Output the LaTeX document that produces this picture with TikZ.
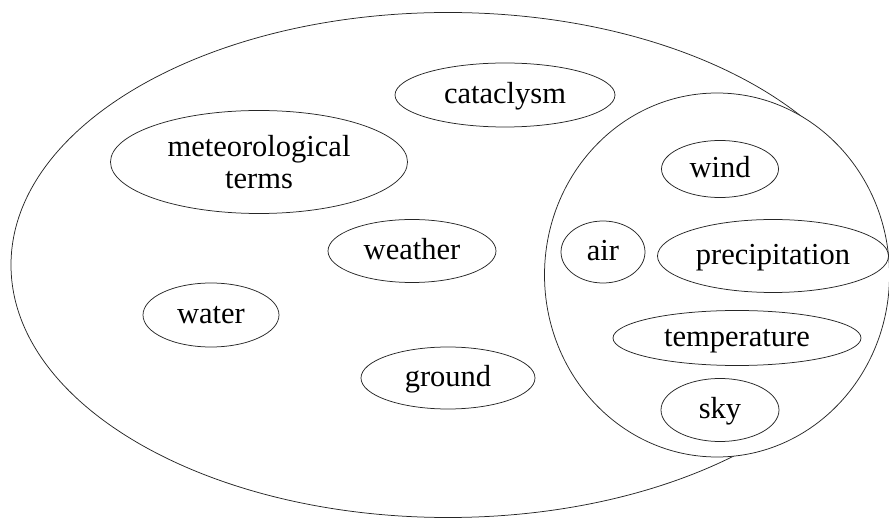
\documentclass[tikz,border=0pt]{standalone}
\usepackage{fontspec}
\setmainfont{Liberation Serif}
\usetikzlibrary{shapes.geometric}
\tikzset{
  bub/.style={draw=black!85, ellipse, inner sep=0pt, line width=0.75pt,
    font=\fontsize{30.5}{31.5}\selectfont, align=center},
  one/.style={text height=23pt, text depth=6pt},
}
\begin{document}
\begin{tikzpicture}[x=1pt,y=-1pt]
\useasboundingbox (0,0) rectangle (889,518);
\clip (0,0) rectangle (889,518);
% outer set and sub-set
\node[bub, minimum width=874pt, minimum height=505pt] (outer) at (448,265) {};
\node[bub, fill=white, minimum width=345pt, minimum height=364pt] (inner) at (717,275) {};
% elements of the outer set
\node[bub, one, minimum width=220pt, minimum height=64pt] (cataclysm) at (505,95) {cataclysm};
\node[bub, minimum width=297pt, minimum height=103pt] (meteo) at (259,162) {meteorological\\terms};
\node[bub, one, minimum width=168pt, minimum height=63pt] (weather) at (412,251) {weather};
\node[bub, one, minimum width=136pt, minimum height=64pt] (water) at (211,315) {water};
\node[bub, one, minimum width=174pt, minimum height=62pt] (ground) at (448,378) {ground};
% elements of the sub-set
\node[bub, one, minimum width=117pt, minimum height=57pt] (wind) at (720,169) {wind};
\node[bub, one, minimum width=84pt, minimum height=62pt] (air) at (603,252) {air};
\node[bub, one, minimum width=231pt, minimum height=73pt] (precip) at (773,256) {precipitation};
\node[bub, one, minimum width=248pt, minimum height=55pt] (temp) at (737,338) {temperature};
\node[bub, one, minimum width=118pt, minimum height=63pt] (sky) at (720,410) {sky};
\end{tikzpicture}
\end{document}
